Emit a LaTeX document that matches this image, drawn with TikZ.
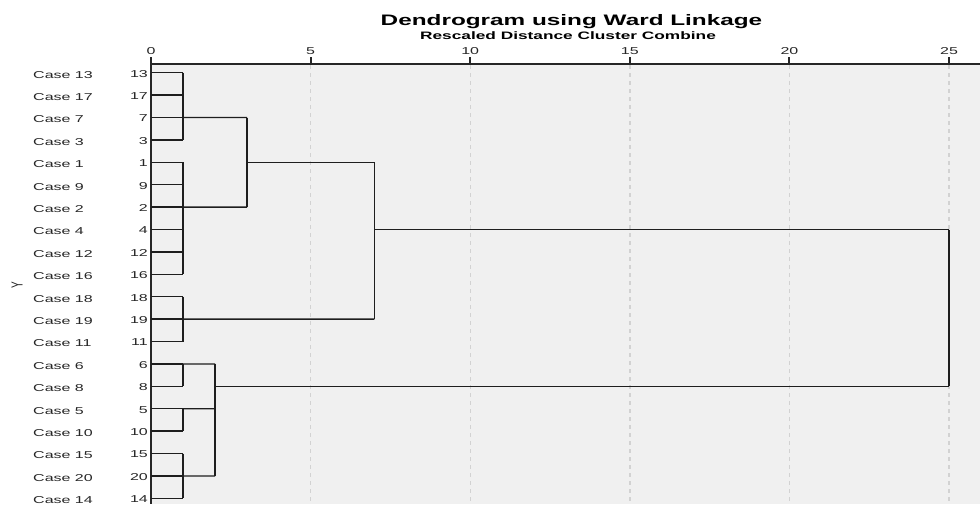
\documentclass[tikz,border=0pt]{standalone}
\usepackage{fontspec}
\setmainfont{Liberation Sans}
\newcommand\stx[1]{\scalebox{1.6}[1]{#1}}
\definecolor{plotbg}{HTML}{F0F0F0}
\definecolor{gridc}{HTML}{D2D2D2}
\definecolor{linec}{HTML}{1E1E1E}
\begin{document}
\begin{tikzpicture}[x=1pt,y=-1pt,
  lbl/.style={inner sep=0pt,font=\fontsize{10}{12}\selectfont,text=black!85},
  ttl/.style={inner sep=0pt,font=\fontsize{15.2}{18}\selectfont\bfseries},
  sub/.style={inner sep=0pt,font=\fontsize{10.8}{13}\selectfont\bfseries},
  grid line/.style={gridc,line width=1.4pt,dash pattern=on 4pt off 4pt},
  axis line/.style={black!85,line width=1.6pt},
  tickmark/.style={black!85,line width=2pt},
  link/.style={linec,line width=1.3pt}]
\useasboundingbox (0,0) rectangle (980,504);
\fill[white] (0,0) rectangle (980,504);
\fill[plotbg] (151,64) rectangle (980,504);
% grid lines and ticks
\foreach \v in {5,10,15,20,25}{
  \coordinate (gt\v) at ({151+31.92*\v},65);
  \coordinate (gb\v) at ({151+31.92*\v},504);
  \draw[grid line] (gt\v) -- (gb\v);
}
\coordinate (axl) at (151,64);
\coordinate (axr) at (980,64);
\coordinate (axb) at (151,504);
\draw[axis line] (axl) -- (axr);
\draw[axis line] (axl) -- (axb);
\foreach \v in {0,5,10,15,20,25}{
  \coordinate (tk\v) at ({151+31.92*\v},64);
  \coordinate (tt\v) at ({151+31.92*\v},57);
  \draw[tickmark] (tk\v) -- (tt\v);
  \node[lbl,anchor=base] (tl\v) at ({151+31.92*\v},54) {\stx{\v}};
}
% titles
\node[ttl,anchor=base] (title) at (571.5,25) {\stx{Dendrogram using Ward Linkage}};
\node[sub,anchor=base] (subtitle) at (568,39.5) {\stx{Rescaled Distance Cluster Combine}};
\node[lbl,rotate=90] (ylab) at (17,285) {\scalebox{1}[1.6]{Y}};
% leaves
\foreach \n [count=\i from 0] in {13,17,7,3,1,9,2,4,12,16,18,19,11,6,8,5,10,15,20,14}{
  \pgfmathsetmacro\yy{72.7+22.4*\i}
  \node[lbl,anchor=base west] (case\n) at (33,\yy+5.3) {\stx{Case \n}};
  \node[lbl,anchor=base east] (num\n) at (148,\yy+4.3) {\stx{\n}};
  \coordinate (leaf\n) at (151,\yy);
  \coordinate (lj\n) at (183,\yy);
  \draw[link] (leaf\n) -- (lj\n);
}
% first-level joins at distance 1
\draw[link] (lj13) -- (lj3);
\draw[link] (lj1) -- (lj16);
\draw[link] (lj18) -- (lj11);
\draw[link] (lj6) -- (lj8);
\draw[link] (lj5) -- (lj10);
\draw[link] (lj15) -- (lj14);
% distance 3
\coordinate (m3a) at (247,117.5);
\coordinate (m3b) at (247,207.1);
\coordinate (m3c) at (247,162.3);
\draw[link] (lj7) -- (m3a);
\draw[link] (lj2) -- (m3b);
\draw[link] (m3a) -- (m3b);
% distance 7
\coordinate (m7a) at (374.4,162.3);
\coordinate (m7b) at (374.4,319.1);
\coordinate (m7c) at (374.4,229.5);
\draw[link] (m3c) -- (m7a);
\draw[link] (lj19) -- (m7b);
\draw[link] (m7a) -- (m7b);
% distance 2
\coordinate (m2a) at (215,363.9);
\coordinate (m2b) at (215,408.7);
\coordinate (m2c) at (215,475.9);
\coordinate (m2d) at (215,386.3);
\draw[link] (lj6) -- (m2a);
\draw[link] (lj5) -- (m2b);
\draw[link] (lj20) -- (m2c);
\draw[link] (m2a) -- (m2c);
% distance 25
\coordinate (m25a) at (949,229.5);
\coordinate (m25b) at (949,386.3);
\draw[link] (m7c) -- (m25a);
\draw[link] (m2d) -- (m25b);
\draw[link] (m25a) -- (m25b);
\end{tikzpicture}
\end{document}
